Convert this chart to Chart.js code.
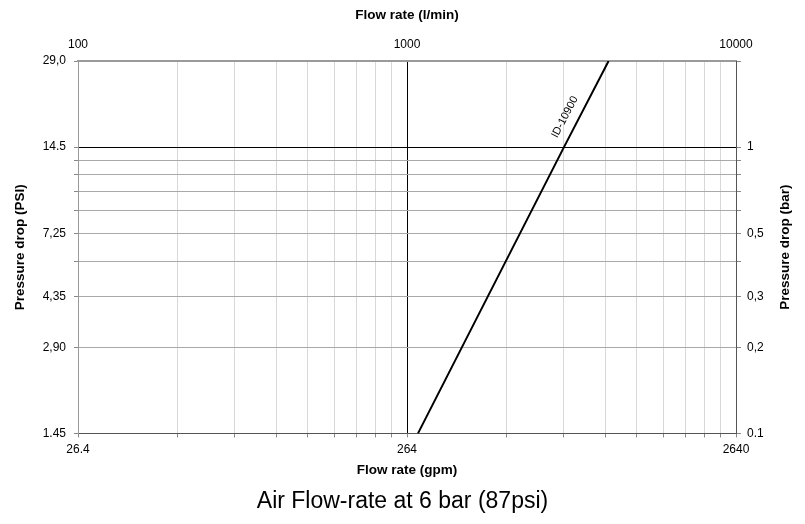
<!DOCTYPE html>
<html>
<head>
<meta charset="utf-8">
<script src="https://cdn.jsdelivr.net/npm/chart.js@4.4.0/dist/chart.umd.min.js"></script>
<style>
html,body{margin:0;padding:0;background:#fff;}
canvas{display:block;}
</style>
</head>
<body>
<canvas id="c" width="805" height="524"></canvas>
<script>
// ---- data ----
const seriesName = 'ID-10900';
const flowLpm = [1080, 3000, 4100];        // l/min
const pressureBar = [0.1, 1, 2];           // bar

// ---- axis ticks / labels ----
const lpmGridValues = [100,200,300,400,500,600,700,800,900,1000,2000,3000,4000,5000,6000,7000,8000,9000,10000];
const lpmTickValues = [100, 1000, 10000];
const lpmTickLabels = ['100', '1000', '10000'];
const gpmTickValues = [26.4, 264, 2640];
const gpmTickLabels = ['26.4', '264', '2640'];
const barGridValues = [0.1,0.2,0.3,0.4,0.5,0.6,0.7,0.8,0.9,1,2];
const barTickValues = [0.1, 0.2, 0.3, 0.5, 1];
const barTickLabels = ['0.1', '0,2', '0,3', '0,5', '1'];
const psiTickValues = [1.45, 2.90, 4.35, 7.25, 14.5, 29.0];
const psiTickLabels = ['1.45', '2,90', '4,35', '7,25', '14.5', '29,0'];
const GPM_PER_LPM = 0.264;
const PSI_PER_BAR = 14.5;

const FONT = "'Liberation Sans', Arial, sans-serif";
const TFONT = "'Liberation Sans', Arial, sans-serif";

function lookup(values, labels, v) {
  const i = values.findIndex(x => Math.abs(x - v) / x < 1e-4);
  return i >= 0 ? labels[i] : '';
}
const near = (a, b) => Math.abs(a - b) / b < 1e-4;

const extraText = {
  id: 'extraText',
  afterDatasetsDraw(chart) {
    const ctx = chart.ctx;
    const meta = chart.getDatasetMeta(0);
    const p1 = meta.data[1], p2 = meta.data[2];
    const t = 0.28;
    const px = p1.x + t * (p2.x - p1.x), py = p1.y + t * (p2.y - p1.y);
    const ang = Math.atan2(p2.y - p1.y, p2.x - p1.x);
    ctx.save();
    ctx.translate(px, py);
    ctx.rotate(ang);
    ctx.fillStyle = '#000';
    ctx.font = "11px " + FONT;
    ctx.textAlign = 'center';
    ctx.textBaseline = 'middle';
    ctx.fillText(seriesName, 0, -13);
    ctx.restore();
  },
  afterDraw(chart) {
    const ctx = chart.ctx;
    const a = chart.chartArea;
    ctx.save();
    ctx.translate(785, (a.top + a.bottom) / 2);
    ctx.rotate(-Math.PI / 2);
    ctx.fillStyle = '#000';
    ctx.font = "bold 13.5px " + TFONT;
    ctx.textAlign = 'center';
    ctx.textBaseline = 'middle';
    ctx.fillText('Pressure drop (bar)', 0, 0);
    ctx.restore();
  }
};

new Chart(document.getElementById('c'), {
  type: 'line',
  data: {
    datasets: [{
      label: seriesName,
      data: flowLpm.map((x, i) => ({ x: x, y: pressureBar[i] })),
      xAxisID: 'xT',
      yAxisID: 'yR',
      borderColor: '#000',
      borderWidth: 2,
      pointRadius: 0,
      fill: false,
      tension: 0
    }]
  },
  options: {
    responsive: false,
    animation: false,
    layout: { padding: 0 },
    plugins: {
      legend: { display: false },
      tooltip: { enabled: false },
      title: {
        display: true,
        position: 'bottom',
        text: 'Air Flow-rate at 6 bar (87psi)',
        color: '#000',
        font: { family: FONT, size: 23, weight: 'normal', lineHeight: 1.2 },
        padding: { top: 3, bottom: 9 }
      }
    },
    scales: {
      xT: {
        type: 'logarithmic', position: 'top', min: 100, max: 10000,
        afterBuildTicks: s => { s.ticks = lpmGridValues.map(v => ({ value: v })); },
        afterFit: s => { s.height = 61; },
        ticks: {
          autoSkip: false, maxRotation: 0, minRotation: 0, padding: 9, color: '#000',
          font: { family: FONT, size: 12 },
          callback: v => lookup(lpmTickValues, lpmTickLabels, v)
        },
        grid: {
          color: c => (c.tick && near(c.tick.value, 1000)) ? '#000' : '#d8d8d8',
          lineWidth: 1, drawTicks: false
        },
        border: { color: '#9a9a9a', width: 2 },
        title: { display: true, text: 'Flow rate (l/min)', color: '#000',
          font: { family: TFONT, size: 13.5, weight: 'bold', lineHeight: 1.2 }, padding: { top: 7, bottom: 0 } }
      },
      xB: {
        type: 'logarithmic', position: 'bottom', min: 26.4, max: 2640,
        afterBuildTicks: s => { s.ticks = lpmGridValues.map(v => ({ value: v * GPM_PER_LPM })); },
        afterFit: s => { s.height = 51; },
        ticks: {
          autoSkip: false, maxRotation: 0, minRotation: 0, padding: 5, color: '#000',
          font: { family: FONT, size: 12 },
          callback: v => lookup(gpmTickValues, gpmTickLabels, v)
        },
        grid: { drawOnChartArea: false, tickLength: 4, tickColor: '#888' },
        border: { color: '#555', width: 1 },
        title: { display: true, text: 'Flow rate (gpm)', color: '#000',
          font: { family: TFONT, size: 13.5, weight: 'bold', lineHeight: 1.2 }, padding: { top: 0, bottom: 6 } }
      },
      yL: {
        type: 'logarithmic', position: 'left', min: 1.45, max: 29,
        afterBuildTicks: s => { s.ticks = barGridValues.map(v => ({ value: v * PSI_PER_BAR })); },
        afterFit: s => { s.width = 78; },
        ticks: {
          autoSkip: false, padding: 8, color: '#000',
          font: { family: FONT, size: 12 },
          callback: v => lookup(psiTickValues, psiTickLabels, v)
        },
        grid: { drawOnChartArea: false, tickLength: 4, tickColor: '#888' },
        border: { color: '#999', width: 1 },
        title: { display: true, text: 'Pressure drop (PSI)', color: '#000',
          font: { family: TFONT, size: 13.5, weight: 'bold', lineHeight: 1.2 }, padding: { top: 12, bottom: 0 } }
      },
      yR: {
        type: 'logarithmic', position: 'right', min: 0.1, max: 2,
        afterBuildTicks: s => { s.ticks = barGridValues.map(v => ({ value: v })); },
        afterFit: s => { s.width = 69; },
        ticks: {
          autoSkip: false, padding: 6, color: '#000',
          font: { family: FONT, size: 12 },
          callback: v => lookup(barTickValues, barTickLabels, v)
        },
        grid: {
          color: c => {
            const v = c.tick ? c.tick.value : 0;
            if (near(v, 1)) return '#000';
            if (near(v, 2)) return '#9a9a9a';
            return '#a9a9a9';
          },
          lineWidth: 1, tickLength: 5,
          tickColor: '#888'
        },
        border: { color: '#555', width: 1 },
        title: { display: false }
      }
    }
  },
  plugins: [extraText]
});
</script>
</body>
</html>
